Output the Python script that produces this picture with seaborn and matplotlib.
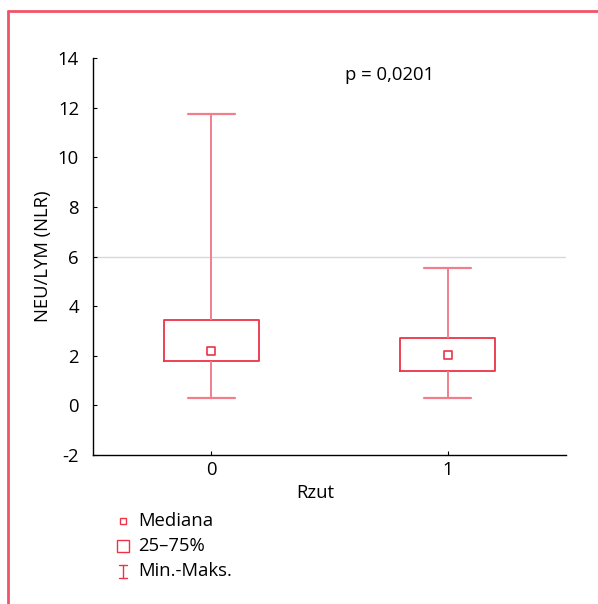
import matplotlib
matplotlib.use("Agg")
import matplotlib.pyplot as plt
from matplotlib.lines import Line2D
from matplotlib.patches import Rectangle
import seaborn as sns
import pandas as pd

# ---- data ----
groups = ["0", "1"]
mins = [0.30, 0.30]
q1s = [1.79, 1.39]
medians = [2.19, 2.03]
q3s = [3.44, 2.72]
maxs = [11.75, 5.52]
y_ticks = [-2, 0, 2, 4, 6, 8, 10, 12, 14]
ref_line = 6
p_text = "p = 0,0201"
x_label = "Rzut"
y_label = "NEU/LYM (NLR)"
legend_labels = ["Mediana", "25\u201375%", "Min.-Maks."]

RED = "#ec3348"
WHISK = "#f27e8c"
FS = 13.3

sns.set_theme(style="white")
plt.rcParams["font.family"] = ["Open Sans", "DejaVu Sans"]

# five-point samples whose quartiles equal the summary stats
rows = []
for g, a, b, c, d, e in zip(groups, mins, q1s, medians, q3s, maxs):
    for v in (a, b, c, d, e):
        rows.append({"group": g, "value": v})
df = pd.DataFrame(rows)
med_df = pd.DataFrame({"group": groups, "median": medians})

fig = plt.figure(figsize=(5.98, 6.04), dpi=100)
ax = fig.add_axes([93 / 598, 1 - 455 / 604, (566 - 93) / 598, (455 - 58) / 604])

ax.axhline(ref_line, color="#d9d9d9", lw=1, zorder=0)

sns.boxplot(data=df, x="group", y="value", order=groups, whis=(0, 100),
            width=0.40, fill=False, color=RED, linewidth=1.2,
            medianprops={"visible": False},
            whiskerprops={"color": WHISK, "linewidth": 1.4},
            capprops={"color": WHISK, "linewidth": 1.6},
            boxprops={"color": RED, "linewidth": 1.3},
            ax=ax)
sns.scatterplot(data=med_df, x="group", y="median", marker="s", s=30,
                facecolor="none", edgecolor=RED, linewidth=1.2, ax=ax,
                zorder=5)

ax.set_xlim(-0.5, 1.5)
ax.set_ylim(-2, 14)
ax.set_yticks(y_ticks)
ax.set_yticklabels([str(t) for t in y_ticks])
for s in ("top", "right"):
    ax.spines[s].set_visible(False)
for s in ("left", "bottom"):
    ax.spines[s].set_color("black")
    ax.spines[s].set_linewidth(1.0)
ax.tick_params(axis="y", direction="in", length=3, width=0.8, colors="black",
               labelsize=FS, left=True, pad=10)
ax.tick_params(axis="x", direction="in", length=3, width=0.8, colors="black",
               labelsize=FS, bottom=True, pad=4)
ax.set_xlabel(x_label, fontsize=FS, color="black")
ax.set_ylabel(y_label, fontsize=FS, color="black")
ax.xaxis.set_label_coords(0.47, -0.072)
ax.yaxis.set_label_coords(-0.086, 0.5)
ax.text(0.565, 13.3, p_text, fontsize=FS, color="black", va="center", ha="left")

# legend
ys = [521, 546, 571]
fig.add_artist(Rectangle(((120) / 598, 1 - 524 / 604), 6 / 598, 6 / 604,
                         transform=fig.transFigure, fill=False, ec=RED, lw=1))
fig.add_artist(Rectangle(((117) / 598, 1 - 552 / 604), 12 / 598, 12 / 604,
                         transform=fig.transFigure, fill=False, ec=RED, lw=1))
cx = 123 / 598
fig.add_artist(Line2D([cx, cx], [1 - 565 / 604, 1 - 578 / 604], transform=fig.transFigure, color=RED, lw=1))
fig.add_artist(Line2D([cx - 4 / 598, cx + 4 / 598], [1 - 565 / 604] * 2, transform=fig.transFigure, color=RED, lw=1))
fig.add_artist(Line2D([cx - 4 / 598, cx + 4 / 598], [1 - 578 / 604] * 2, transform=fig.transFigure, color=RED, lw=1))
for y, lab in zip(ys, legend_labels):
    fig.text(138 / 598, 1 - y / 604, lab, fontsize=FS, va="center", ha="left", color="black")

# red frame
fig.add_artist(Line2D([8 / 598, 1], [1 - 11 / 604] * 2, transform=fig.transFigure, color="#f05468", lw=2))
fig.add_artist(Line2D([8 / 598, 8 / 598], [0, 1 - 11 / 604], transform=fig.transFigure, color="#f05468", lw=2))

fig.savefig("out.png", dpi=100)
